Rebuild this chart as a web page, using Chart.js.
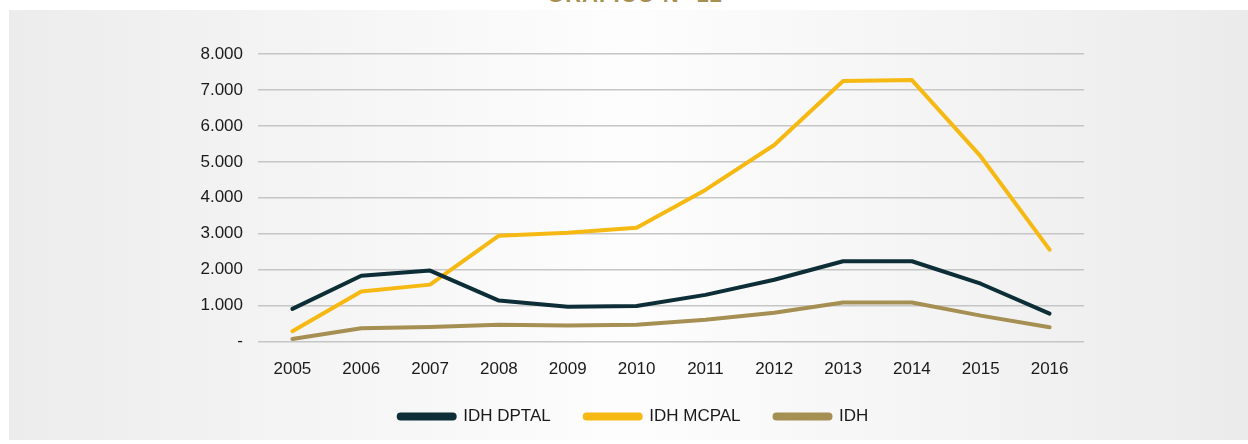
<!DOCTYPE html>
<html>
<head>
<meta charset="utf-8">
<script src="https://cdn.jsdelivr.net/npm/chart.js@4.4.1/dist/chart.umd.min.js"></script>
<style>
    html, body { margin: 0; padding: 0; background: #ffffff; }
    body { width: 1248px; height: 444px; position: relative; overflow: hidden; }
    #titulo {
        position: absolute; left: 0; width: 1248px; top: -16px; text-align: center;
        font: bold 22px "Liberation Sans", Arial, sans-serif; line-height: 22px;
        color: #a68f52; letter-spacing: 1px; padding-left: 22px; box-sizing: border-box;
    }
    #painel {
        position: absolute; left: 9px; top: 10px; width: 1239px; height: 430px;
        background: linear-gradient(to right, #ececec 0%, #fdfdfd 50%, #ebebeb 100%);
    }
    #grafico { position: absolute; left: 0; top: 0; }
</style>
</head>
<body>
<div id="titulo">GRÁFICO N° 12</div>
<div id="painel"></div>
<canvas id="grafico" width="1248" height="444"></canvas>
<script>
const anos = ['2005', '2006', '2007', '2008', '2009', '2010', '2011', '2012', '2013', '2014', '2015', '2016'];
const idhDptal = [910, 1830, 1975, 1140, 970, 990, 1300, 1720, 2235, 2235, 1610, 780];
const idhMcpal = [290, 1395, 1585, 2945, 3025, 3165, 4220, 5470, 7250, 7275, 5150, 2560];
const idh = [75, 370, 405, 470, 445, 470, 610, 805, 1090, 1090, 722, 398];
const rotulosY = ['-', '1.000', '2.000', '3.000', '4.000', '5.000', '6.000', '7.000', '8.000'];

const fonte = { family: '"Liberation Sans", Arial, sans-serif', size: 17 };

function serie(label, data, cor) {
    return {
        label: label,
        data: data,
        borderColor: cor,
        backgroundColor: cor,
        borderWidth: 4,
        pointRadius: 0,
        borderCapStyle: 'round',
        borderJoinStyle: 'round',
        tension: 0,
        fill: false
    };
}

const ctx = document.getElementById('grafico').getContext('2d');
new Chart(ctx, {
    type: 'line',
    data: {
        labels: anos,
        datasets: [
            serie('IDH DPTAL', idhDptal, '#0d2e36'),
            serie('IDH MCPAL', idhMcpal, '#f6b913'),
            serie('IDH', idh, '#a68f52')
        ]
    },
    options: {
        responsive: false,
        animation: false,
        layout: { padding: { left: 183, right: 164, top: 54, bottom: 9 } },
        plugins: {
            tooltip: { enabled: false },
            legend: {
                position: 'bottom',
                labels: {
                    boxWidth: 56,
                    boxHeight: 4,
                    useBorderRadius: true,
                    borderRadius: 2,
                    padding: 34,
                    color: '#1a1a1a',
                    font: fonte
                }
            }
        },
        scales: {
            x: {
                offset: true,
                afterFit: (escala) => { escala.height = escala.height - 24; },
                grid: { display: false, drawTicks: false },
                border: { display: false },
                ticks: { color: '#1a1a1a', font: fonte, padding: 18, maxRotation: 0 }
            },
            y: {
                min: 0,
                max: 8000,
                afterFit: (escala) => { escala.width = 75; },
                grid: { color: '#c6c6c6', lineWidth: 1.5, drawTicks: false },
                border: { display: false },
                ticks: {
                    stepSize: 1000,
                    color: '#1a1a1a',
                    font: fonte,
                    padding: 15,
                    callback: (valor, i) => rotulosY[i]
                }
            }
        }
    }
});
</script>
</body>
</html>
